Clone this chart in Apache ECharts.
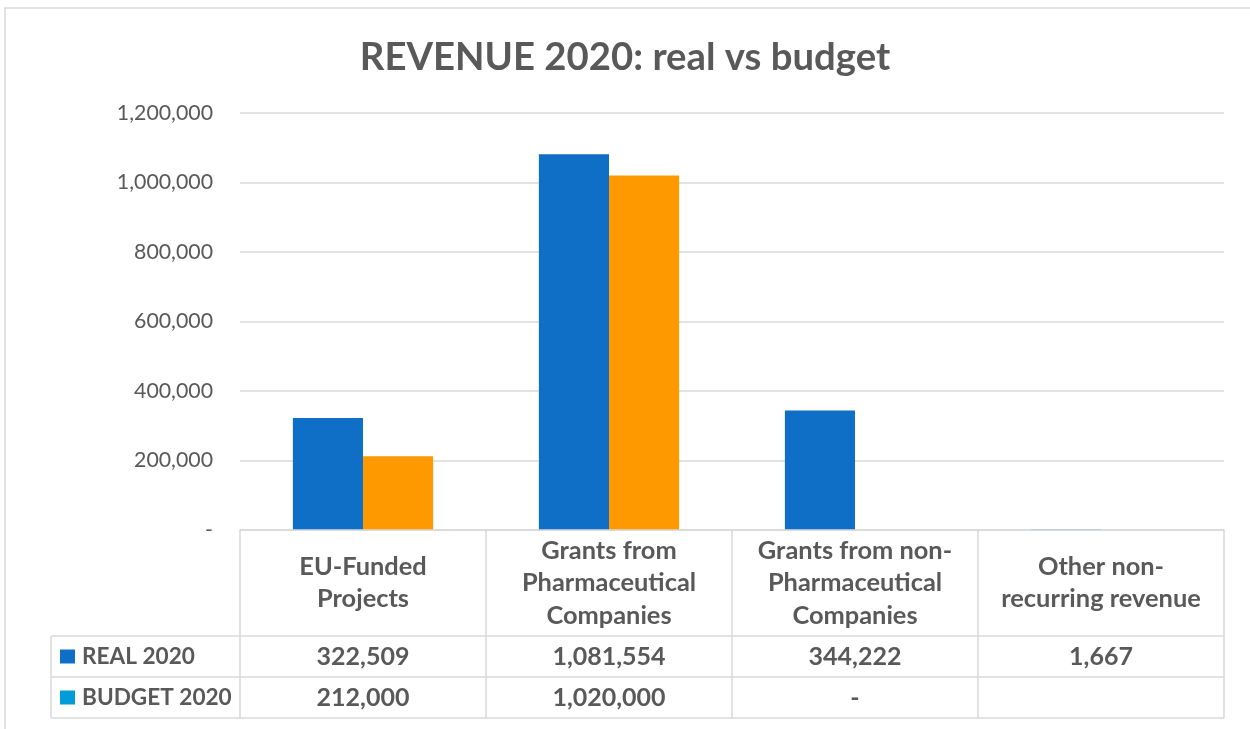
<!DOCTYPE html>
<html>
<head>
<meta charset="utf-8">
<script src="https://cdn.jsdelivr.net/npm/echarts@6/dist/echarts.min.js"></script>
<style>
html,body{margin:0;padding:0;background:#fff;}
#chart{width:1250px;height:729px;}
</style>
</head>
<body>
<div id="chart"></div>
<script>
// ---- data ----
const titleText = 'REVENUE 2020: real vs budget';
const categories = ['EU-Funded Projects', 'Grants from Pharmaceutical Companies', 'Grants from non-Pharmaceutical Companies', 'Other non-recurring revenue'];
const seriesNames = ['REAL 2020', 'BUDGET 2020'];
const real2020 = [322509, 1081554, 344222, 1667];
const budget2020 = [212000, 1020000, 0, null];
const yTicks = [0, 200000, 400000, 600000, 800000, 1000000, 1200000];

// ---- styles ----
const TXT = '#595959';
const GRID = '#D9D9D9';
const BLUE = '#0F6FC6';
const ORANGE = '#FF9900';
const LEGEND_BUDGET = '#009DD9';
const FAMILY = 'Lato';

const ctx = document.createElement('canvas').getContext('2d');
function measure(text, weight, size) {
  ctx.font = weight + ' ' + size + 'px "' + FAMILY + '"';
  return ctx.measureText(text).width;
}
// font size so that a sample string gets the reference's pixel width
function fitSize(sample, weight, target) {
  return Math.round(100 * target / measure(sample, weight, 100) * 10) / 10;
}
const titleSize = fitSize('REVENUE 2020: real vs budget', 'bold', 530);
const ySize = fitSize('1,200,000', 'normal', 96);
const cellSize = fitSize('1,081,554', 'bold', 113);
const headSize = fitSize('recurring revenue', 'bold', 200);
const rowHeadSize = fitSize('BUDGET 2020', 'bold', 150);

function wrap(text, maxW) {
  const tokens = text.split(/(?<=[\s-])/);
  const lines = [];
  let cur = '';
  tokens.forEach(t => {
    const trial = cur + t;
    if (cur && measure(trial.trim(), 'bold', headSize) > maxW) {
      lines.push(cur.trim());
      cur = t;
    } else {
      cur = trial;
    }
  });
  if (cur) lines.push(cur.trim());
  return lines.join('\n');
}

function fmt(v) {
  if (v === null || v === undefined) return '';
  if (v === 0) return '-';
  return v.toLocaleString('en-US');
}

const chart = echarts.init(document.getElementById('chart'), null, {renderer: 'canvas'});

const gridLeft = 240, gridRight = 1224, gridTop = 113, gridBottom = 530;
const headMid = 583, row1Mid = 656.5, row2Mid = 697.5, tableBottom = 718, tableLeft = 51;

const option = {
  backgroundColor: '#fff',
  animation: false,
  title: {
    text: titleText,
    left: 'center',
    top: 57 - titleSize * 0.62,
    textStyle: {color: TXT, fontFamily: FAMILY, fontWeight: 'bold', fontSize: titleSize}
  },
  grid: {left: gridLeft, right: 1250 - gridRight, top: gridTop, bottom: 729 - gridBottom, containLabel: false},
  xAxis: [
    {
      type: 'category',
      data: categories,
      position: 'bottom',
      z: 3,
      axisLine: {show: true, lineStyle: {color: GRID, width: 1.5}},
      axisTick: {show: true, length: tableBottom - gridBottom, lineStyle: {color: GRID, width: 1.5}},
      axisLabel: {
        color: TXT, fontFamily: FAMILY, fontWeight: 'bold', fontSize: headSize, lineHeight: 32.5,
        verticalAlign: 'middle', margin: headMid - gridBottom, interval: 0, align: 'center',
        formatter: v => wrap(v, 210)
      }
    },
    {
      type: 'category',
      data: real2020.map(fmt),
      position: 'bottom',
      axisLine: {show: false}, axisTick: {show: false},
      axisLabel: {color: TXT, fontFamily: FAMILY, fontWeight: 'bold', fontSize: cellSize, verticalAlign: 'middle', margin: row1Mid - gridBottom, interval: 0}
    },
    {
      type: 'category',
      data: budget2020.map(fmt),
      position: 'bottom',
      axisLine: {show: false}, axisTick: {show: false},
      axisLabel: {color: TXT, fontFamily: FAMILY, fontWeight: 'bold', fontSize: cellSize, verticalAlign: 'middle', margin: row2Mid - gridBottom, interval: 0}
    }
  ],
  yAxis: {
    type: 'value',
    min: yTicks[0],
    max: yTicks[yTicks.length - 1],
    interval: yTicks[1] - yTicks[0],
    axisLine: {show: false},
    axisTick: {show: false},
    splitLine: {lineStyle: {color: GRID, width: 1.5}},
    axisLabel: {color: TXT, fontFamily: FAMILY, fontSize: ySize, margin: 27, formatter: v => fmt(v)}
  },
  series: [
    {name: seriesNames[0], type: 'bar', xAxisIndex: 0, data: real2020, itemStyle: {color: BLUE}, barGap: '0%', barCategoryGap: '43%'},
    {name: seriesNames[1], type: 'bar', xAxisIndex: 0, data: budget2020, itemStyle: {color: ORANGE}, barGap: '0%', barCategoryGap: '43%'}
  ],
  graphic: [
    {type: 'rect', shape: {x: 5, y: 8, width: 1300, height: 800}, style: {fill: 'none', stroke: GRID, lineWidth: 1.5}, silent: true},
    {type: 'line', shape: {x1: tableLeft, y1: 636, x2: gridRight, y2: 636}, style: {stroke: GRID, lineWidth: 1.5}},
    {type: 'line', shape: {x1: tableLeft, y1: 677, x2: gridRight, y2: 677}, style: {stroke: GRID, lineWidth: 1.5}},
    {type: 'line', shape: {x1: tableLeft, y1: tableBottom, x2: gridRight, y2: tableBottom}, style: {stroke: GRID, lineWidth: 1.5}},
    {type: 'line', shape: {x1: tableLeft, y1: 636, x2: tableLeft, y2: tableBottom}, style: {stroke: GRID, lineWidth: 1.5}},
    {type: 'rect', shape: {x: 60, y: row1Mid - 7, width: 15, height: 14}, style: {fill: BLUE}},
    {type: 'rect', shape: {x: 60, y: row2Mid - 7, width: 15, height: 14}, style: {fill: LEGEND_BUDGET}},
    {type: 'text', x: 82, y: row1Mid, style: {text: seriesNames[0], fill: TXT, font: 'bold ' + rowHeadSize + 'px "' + FAMILY + '"', textVerticalAlign: 'middle', verticalAlign: 'middle'}},
    {type: 'text', x: 82, y: row2Mid, style: {text: seriesNames[1], fill: TXT, font: 'bold ' + rowHeadSize + 'px "' + FAMILY + '"', textVerticalAlign: 'middle', verticalAlign: 'middle'}}
  ]
};
chart.setOption(option);
</script>
</body>
</html>
